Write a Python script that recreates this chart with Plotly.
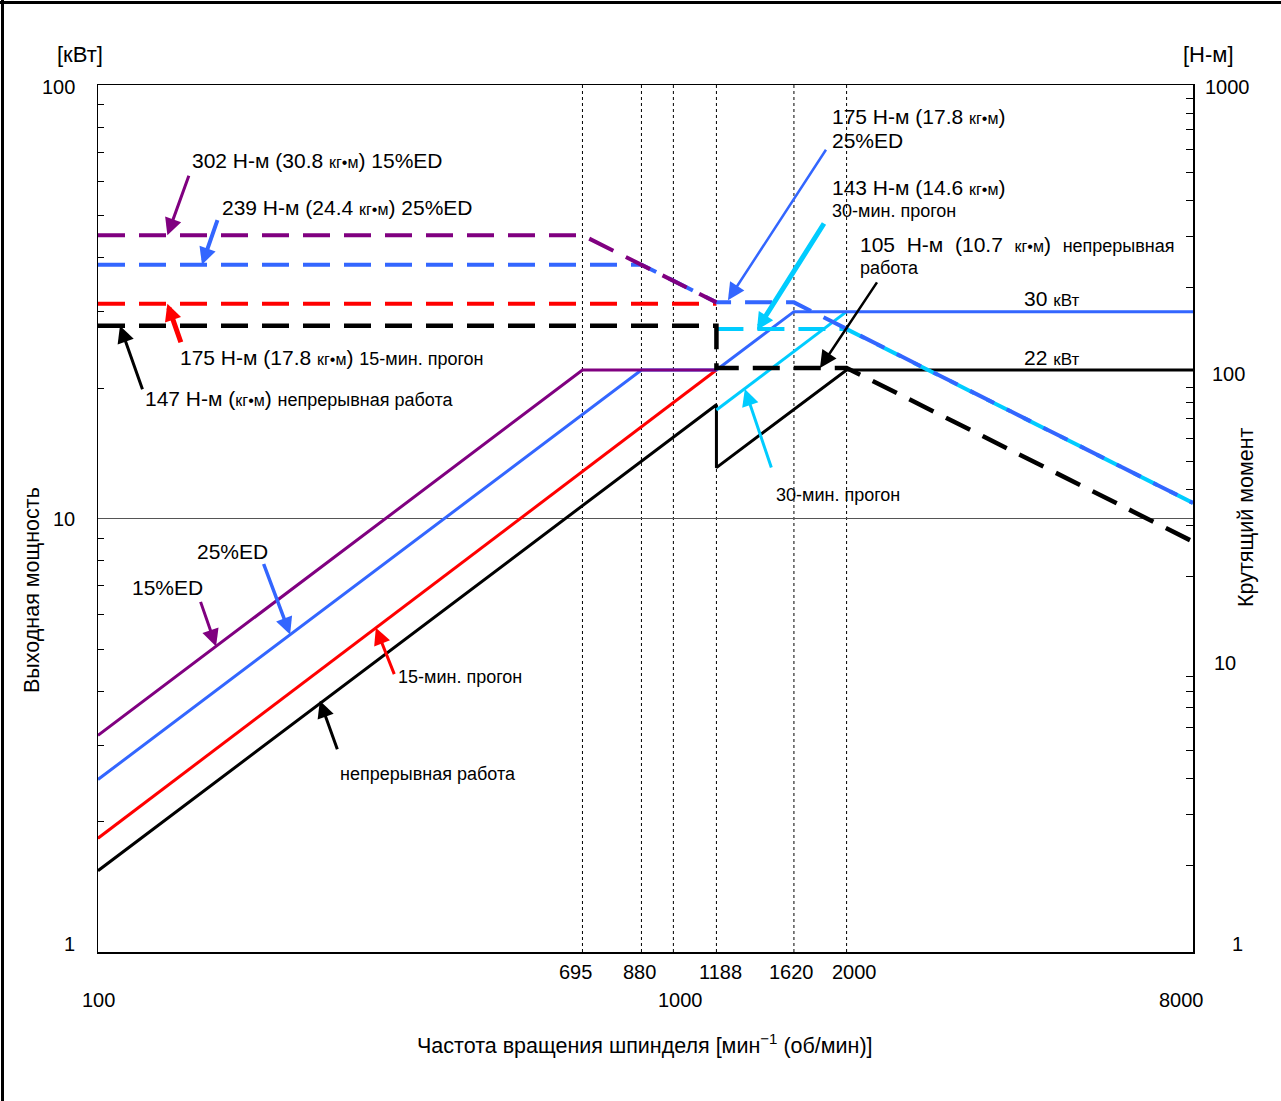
import math
import plotly.graph_objects as go

# ---------------- data ----------------
# reference speeds (dotted vertical lines)
rpm_marks = [695, 880, 1000, 1188, 1620, 2000]
# x tick labels (two rows)
x_row1_vals = [695, 880, 1188, 1620, 2000]
x_row1_text = ["695", "880", "1188", "1620", "2000"]
x_row2_vals = [100, 1000, 8000]
x_row2_text = ["100", "1000", "8000"]
power_tick_vals = [100, 10, 1]
power_tick_text = ["100", "10", "1"]
torque_tick_vals = [1000, 100, 10, 1]
torque_tick_text = ["1000", "100", "10", "1"]

# Output power, kW (solid lines)
p15ed_rpm = [100, 695, 1188]
p15ed_kw = [3.16, 22, 22]
p25ed_rpm = [100, 880, 1188, 1620, 8000]
p25ed_kw = [2.50, 22, 22, 30, 30]
p15min_rpm = [100, 1188]
p15min_kw = [1.83, 22]
pcont_rpm = [100, 1188, 1188, 2000, 8000]
pcont_kw = [1.54, 18.3, 13.1, 22, 22]
p30min_rpm = [1188, 2000]
p30min_kw = [17.8, 30]

# Torque, N·m (dashed lines)
t15ed_rpm = [100, 695, 1188]
t15ed_nm = [302, 302, 177]
t25ed_rpm = [100, 880, 1188, 1620, 8000]
t25ed_nm = [239, 239, 177, 177, 35.8]
t15min_rpm = [100, 1188]
t15min_nm = [175, 175]
tcont_rpm = [100, 1188, 1188, 2000, 8000]
tcont_nm = [147, 147, 105, 105, 26.3]
t30min_rpm = [1188, 2000, 8000]
t30min_nm = [143, 143, 35.8]

grid_kw = 10

# ---------------- styles ----------------
PURPLE = "#800080"
BLUE = "#3366FF"
RED = "#FF0000"
BLACK = "#000000"
CYAN = "#00CCFF"
FONT = "Liberation Sans, Arial, sans-serif"
DASH = "27px,14px"
BIG = 21
SMALL = 18
KG = 16

W, H = 1281, 1101
L, R, T, B = 98, 1193, 85, 952


def px(x):
    return (x - L) / (R - L)


def py(y):
    return (B - y) / (B - T)


fig = go.Figure()

# dotted reference lines
for r in rpm_marks:
    fig.add_trace(go.Scatter(x=[r, r], y=[1, 100], mode="lines",
                             line=dict(color=BLACK, width=1, dash="3px,3px"),
                             hoverinfo="skip", showlegend=False))
fig.add_trace(go.Scatter(x=[100, 8000], y=[grid_kw, grid_kw], mode="lines",
                         line=dict(color="#555555", width=1),
                         hoverinfo="skip", showlegend=False))

# torque (dashed, right axis)
for xs, ys, col, w in [
    (t30min_rpm, t30min_nm, CYAN, 4),
    (tcont_rpm, tcont_nm, BLACK, 4.5),
    (t15min_rpm, t15min_nm, RED, 4),
    (t25ed_rpm, t25ed_nm, BLUE, 4),
    (t15ed_rpm, t15ed_nm, PURPLE, 4),
]:
    fig.add_trace(go.Scatter(x=xs, y=ys, yaxis="y2", mode="lines",
                             line=dict(color=col, width=w, dash=DASH),
                             hoverinfo="skip", showlegend=False))

# power (solid, left axis)
for xs, ys, col, w in [
    (pcont_rpm, pcont_kw, BLACK, 3),
    (p15min_rpm, p15min_kw, RED, 3),
    (p30min_rpm, p30min_kw, CYAN, 3),
    (p25ed_rpm, p25ed_kw, BLUE, 3),
    (p15ed_rpm, p15ed_kw, PURPLE, 3),
]:
    fig.add_trace(go.Scatter(x=xs, y=ys, mode="lines",
                             line=dict(color=col, width=w),
                             hoverinfo="skip", showlegend=False))

minor_power = [m * d for d in (1, 10) for m in range(2, 10)]
minor_torque = [m * d for d in (1, 10, 100) for m in range(2, 10)]

annotations = []


def txt(text, x, y, size=BIG, anchor="left", **kw):
    d = dict(text=text, x=px(x), y=py(y), xref="paper", yref="paper",
             xanchor=anchor, yanchor="middle", showarrow=False,
             font=dict(family=FONT, size=size, color=BLACK), align="left")
    d.update(kw)
    annotations.append(d)


def arrow(rpm, val, yref, dx, dy, color, w):
    annotations.append(dict(
        x=math.log10(rpm), y=math.log10(val), xref="x", yref=yref,
        ax=dx, ay=dy, axref="pixel", ayref="pixel", text="",
        showarrow=True, arrowhead=2, arrowsize=3.4 / w, arrowwidth=w,
        arrowcolor=color, standoff=0))


def sm(t, s=KG):
    return f'<span style="font-size:{s}px">{t}</span>'


# axis tick labels
for v, t in zip(power_tick_vals, power_tick_text):
    annotations.append(dict(text=t, x=px(77), xref="paper", xanchor="right",
                            y=math.log10(v), yref="y", yanchor="middle",
                            yshift=(8 if v == 1 else (-2 if v == 100 else 0)),
                            showarrow=False, font=dict(family=FONT, size=20, color=BLACK)))
torque_label_x = [1203, 1210, 1212, 1230]
for v, t, lx in zip(torque_tick_vals, torque_tick_text, torque_label_x):
    annotations.append(dict(text=t, x=px(lx), xref="paper", xanchor="left",
                            y=math.log10(v), yref="y2", yanchor="middle",
                            yshift=(8 if v == 1 else (-2 if v == 1000 else 0)),
                            showarrow=False, font=dict(family=FONT, size=20, color=BLACK)))
row1_shift = [-7, -2, 4, -2, 8]
for v, t, s in zip(x_row1_vals, x_row1_text, row1_shift):
    annotations.append(dict(text=t, x=math.log10(v), xref="x", xshift=s, xanchor="center",
                            y=py(972), yref="paper", yanchor="middle",
                            showarrow=False, font=dict(family=FONT, size=20, color=BLACK)))
row2_shift = [0, 7, -12]
for v, t, s in zip(x_row2_vals, x_row2_text, row2_shift):
    annotations.append(dict(text=t, x=math.log10(v), xref="x", xshift=s, xanchor="center",
                            y=py(1000), yref="paper", yanchor="middle",
                            showarrow=False, font=dict(family=FONT, size=20, color=BLACK)))

# units and titles
txt("[кВт]", 80, 55, 22, "center")
txt("[Н-м]", 1208, 55, 22, "center")
txt("Частота вращения шпинделя [мин<sup>−1</sup> (об/мин)]", 645, 1044, 21.5, "center")
txt("Выходная мощность", 32, 590, 21.5, "center", textangle=-90)
txt("Крутящий момент", 1246, 517, 21.5, "center", textangle=-90)

# curve labels
txt("302 Н-м (30.8 " + sm("кг•м") + ") 15%ED", 190, 160)
txt("239 Н-м (24.4 " + sm("кг•м") + ") 25%ED", 220, 207)
txt("175 Н-м (17.8 " + sm("кг•м") + ") " + sm("15-мин. прогон", SMALL), 178, 357)
txt("147 Н-м (" + sm("кг•м") + ") " + sm("непрерывная работа", SMALL), 143, 399)
txt("175 Н-м (17.8 " + sm("кг•м") + ")", 830, 116)
txt("25%ED", 830, 140)
txt("143 Н-м (14.6 " + sm("кг•м") + ")", 830, 188)
txt("30-мин. прогон", 830, 211, SMALL)
txt("105\u00a0\u00a0Н-м\u00a0\u00a0(10.7\u00a0\u00a0" + sm("кг•м") + ")\u00a0\u00a0" + sm("непрерывная", SMALL),
    858, 244)
txt("работа", 858, 268, SMALL)
txt("30 " + sm("кВт", 17), 1022, 298)
txt("22 " + sm("кВт", 17), 1022, 357)
txt("30-мин. прогон", 774, 495, SMALL)
txt("25%ED", 195, 551)
txt("15%ED", 130, 587)
txt("15-мин. прогон", 396, 677, SMALL)
txt("непрерывная работа", 338, 774, SMALL)

# arrows
arrow(132, 302, "y2", 22, -61, PURPLE, 3)
arrow(151.6, 239, "y2", 16, -46, BLUE, 4)
arrow(132, 175, "y2", 14, 40, RED, 5)
arrow(109.2, 147, "y2", 23, 65, BLACK, 3)
arrow(1244, 180, "y2", 99, -152, BLUE, 2.5)
arrow(1397, 142, "y2", 68, -108, CYAN, 5)
arrow(1798, 105, "y2", 58, -87, BLACK, 2.5)
arrow(1331, 19.9, "y", 27, 80, CYAN, 3)
arrow(160.4, 5.07, "y", -16, -46, PURPLE, 3)
arrow(215.7, 5.40, "y", -27, -72, BLUE, 3.5)
arrow(304, 5.6, "y", 19, 48, RED, 3)
arrow(243, 3.8, "y", 18, 50, BLACK, 3)

shapes = [
    dict(type="line", xref="paper", yref="paper", x0=px(0), x1=px(W), y0=py(2.5), y1=py(2.5),
         line=dict(color=BLACK, width=3)),
    dict(type="line", xref="paper", yref="paper", x0=px(2.5), x1=px(2.5), y0=py(0), y1=py(H),
         line=dict(color=BLACK, width=3)),
]

fig.update_layout(
    width=W, height=H, autosize=False,
    margin=dict(l=L, r=W - R, t=T, b=H - B, pad=0),
    paper_bgcolor="white", plot_bgcolor="white",
    showlegend=False,
    font=dict(family=FONT, size=18, color=BLACK),
    xaxis=dict(type="log", range=[2, math.log10(8000)], showgrid=False, zeroline=False,
               showline=True, linecolor=BLACK, linewidth=1.5, mirror=True,
               ticks="", showticklabels=False, fixedrange=True),
    yaxis=dict(type="log", range=[0, 2], showgrid=False, zeroline=False,
               showline=True, linecolor=BLACK, linewidth=1.5, mirror=True,
               ticks="inside", tickvals=minor_power, ticklen=6, tickwidth=1,
               tickcolor=BLACK, showticklabels=False, fixedrange=True),
    yaxis2=dict(type="log", range=[0, 3], overlaying="y", side="right",
                showgrid=False, zeroline=False, showline=True, linecolor=BLACK,
                linewidth=1.5, ticks="inside", tickvals=minor_torque, ticklen=7,
                tickwidth=1, tickcolor=BLACK, showticklabels=False, fixedrange=True),
    annotations=annotations,
    shapes=shapes,
)

fig.write_html(
    "out.html",
    config={"displayModeBar": False, "staticPlot": True},
    post_script="document.body.style.margin='0';document.body.style.overflow='hidden';",
)
